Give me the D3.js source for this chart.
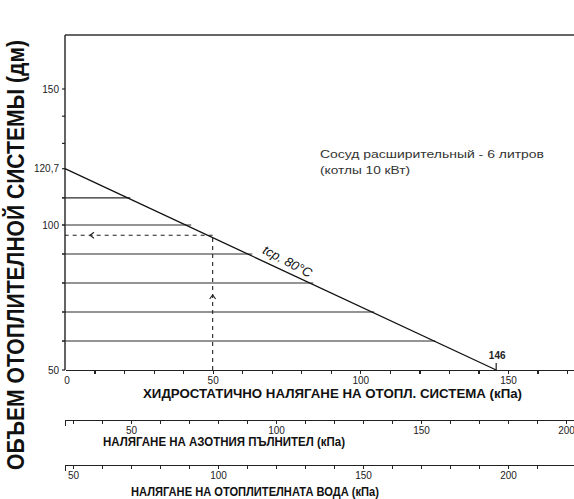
<!DOCTYPE html>
<html>
<head>
<meta charset="utf-8">
<script src="https://d3js.org/d3.v7.min.js"></script>
<style>
    html, body { margin: 0; padding: 0; background: #fff; }
    svg { display: block; font-family: "Liberation Sans", Arial, sans-serif; }
    .axis path, .axis line { stroke: #222; stroke-width: 1.2px; shape-rendering: crispEdges; }
    .axis text { font-size: 10px; fill: #222; font-family: "Liberation Sans", Arial, sans-serif; }
    .title { font-weight: bold; fill: #111; }
</style>
</head>
<body>
<svg id="chart" width="574" height="499"></svg>
<script>
// values
const volumeLevels = [60, 70, 80, 90, 100, 110];        // horizontal guide lines (dm3)
const linePressure = [0, 146];                           // hydrostatic pressure (kPa)
const lineVolume = [120.7, 50];                          // system volume (dm3)
const examplePressure = 50;                              // dashed reading example
const volumeLabels = [50, 100, 120.7, 150];
const volumeMinor = [60, 70, 80, 90, 110, 130, 140];
const hydroLabels = [0, 50, 100, 150];
const nitrogenLabels = [50, 100, 150, 200];
const waterLabels = [50, 100, 150, 200];
const hydroTicks = [10, 20, 30, 40, 50, 60, 70, 80, 90, 100, 110, 120, 130, 140, 150, 160, 170];
const nitrogenTicks = [30, 40, 50, 60, 70, 80, 90, 100, 110, 120, 130, 140, 150, 160, 170, 180, 190, 200];
const waterTicks = [50, 60, 70, 80, 90, 100, 110, 120, 130, 140, 150, 160, 170, 180, 190, 200, 210];

const plotLeft = 65, plotRight = 574, plotTop = 35;

const svg = d3.select("#chart");

// scales (the scan is a bit stretched, so y is piecewise)
const x = d3.scaleLinear().domain([0, 150]).range([plotLeft, 508]);
const xN = d3.scaleLinear().domain([50, 200]).range([131, 566]);
const xW = d3.scaleLinear().domain([100, 200]).range([218, 508]);
const y = d3.scaleLinear().domain([50, 100, 150]).range([370, 225, 89]);

// volume where the temperature line crosses a given pressure
const slope = (lineVolume[1] - lineVolume[0]) / (linePressure[1] - linePressure[0]);
const volAt = p => lineVolume[0] + slope * (p - linePressure[0]);
const pressAt = v => linePressure[0] + (v - lineVolume[0]) / slope;

// frame: top border and y axis line
svg.append("line").attr("x1", plotLeft).attr("x2", plotRight).attr("y1", plotTop).attr("y2", plotTop)
    .attr("stroke", "#333").attr("stroke-width", 1.3);
svg.append("line").attr("x1", plotLeft).attr("x2", plotLeft).attr("y1", plotTop).attr("y2", y(50))
    .attr("stroke", "#222").attr("stroke-width", 1.4);

// y ticks + labels
svg.selectAll(".ytick").data(volumeLabels.concat(volumeMinor)).join("line")
    .attr("x1", plotLeft - 3).attr("x2", plotLeft)
    .attr("y1", d => y(d)).attr("y2", d => y(d))
    .attr("stroke", "#222").attr("stroke-width", 1.2);
svg.selectAll(".ylab").data(volumeLabels).join("text")
    .attr("x", plotLeft - 6).attr("y", d => y(d)).attr("dy", "0.35em")
    .attr("text-anchor", "end")
    .style("font-size", "10px").style("fill", "#222")
    .text(d => String(d).replace(".", ","));

// horizontal guides from the axis up to the line
svg.selectAll(".guide").data(volumeLevels).join("line")
    .attr("x1", plotLeft - 3).attr("x2", d => x(pressAt(d)))
    .attr("y1", d => y(d)).attr("y2", d => y(d))
    .attr("stroke", "#2a2a2a").attr("stroke-width", 1.2);

// temperature line
svg.append("path")
    .datum(linePressure.map((p, i) => [p, lineVolume[i]]))
    .attr("fill", "none").attr("stroke", "#111").attr("stroke-width", 1.3)
    .attr("d", d3.line().x(d => x(d[0])).y(d => y(d[1])));

// tick + label at 146
svg.append("line").attr("x1", x(linePressure[1])).attr("x2", x(linePressure[1]))
    .attr("y1", y(50)).attr("y2", y(50) - 7).attr("stroke", "#222").attr("stroke-width", 1.2);
svg.append("text").attr("x", x(linePressure[1]) + 1).attr("y", y(50) - 11)
    .attr("text-anchor", "middle").style("font-size", "10px").style("font-weight", "bold").style("fill", "#222")
    .text(linePressure[1]);

// dashed reading example
const exV = volAt(examplePressure);
svg.append("line").attr("x1", x(examplePressure)).attr("x2", x(examplePressure))
    .attr("y1", y(50)).attr("y2", y(exV))
    .attr("stroke", "#222").attr("stroke-width", 1.1).attr("stroke-dasharray", "4,4");
svg.append("line").attr("x1", x(examplePressure)).attr("x2", plotLeft)
    .attr("y1", y(exV)).attr("y2", y(exV))
    .attr("stroke", "#222").attr("stroke-width", 1.1).attr("stroke-dasharray", "4,4");
// little arrow heads
const ax = x(examplePressure), ay = 295;
svg.append("path").attr("d", `M${ax - 3},${ay + 4} L${ax},${ay} L${ax + 3},${ay + 4}`)
    .attr("fill", "none").attr("stroke", "#222").attr("stroke-width", 1.1);
const hx = 90, hy = y(exV);
svg.append("path").attr("d", `M${hx + 4},${hy - 3} L${hx},${hy} L${hx + 4},${hy + 3}`)
    .attr("fill", "none").attr("stroke", "#222").attr("stroke-width", 1.1);

// label along the line
const ang = Math.atan2(y(lineVolume[1]) - y(lineVolume[0]), x(linePressure[1]) - x(linePressure[0])) * 180 / Math.PI;
const lp = 74;
svg.append("text")
    .attr("transform", `translate(${x(lp)},${y(volAt(lp))}) rotate(${ang + 3})`)
    .attr("y", -4).attr("text-anchor", "middle")
    .style("font-size", "13px").style("font-style", "italic").style("fill", "#111")
    .text("tср. 80°C");

// note text
svg.append("text").attr("x", 320).attr("y", 158)
    .style("font-size", "11.5px").style("fill", "#333")
    .attr("textLength", 224).attr("lengthAdjust", "spacingAndGlyphs")
    .text("Сосуд расширительный - 6 литров");
svg.append("text").attr("x", 320).attr("y", 174)
    .style("font-size", "11.5px").style("fill", "#333")
    .attr("textLength", 90).attr("lengthAdjust", "spacingAndGlyphs")
    .text("(котлы 10 кВт)");

// bottom axes, each running across the full width
function drawAxis(scale, ticks, labels, yPos, outer) {
    const s = scale.copy()
        .domain([scale.invert(plotLeft), scale.invert(plotRight)])
        .range([plotLeft, plotRight]);
    const g = svg.append("g").attr("class", "axis").attr("transform", `translate(0,${yPos})`);
    g.call(d3.axisBottom(s)
        .tickValues(ticks)
        .tickSize(4)
        .tickSizeOuter(outer)
        .tickPadding(3)
        .tickFormat(d => labels.includes(d) ? d : ""));
    g.selectAll("text").attr("font-family", null).attr("font-size", null);
    return g;
}
drawAxis(x, hydroTicks, hydroLabels, y(50), 0);
// "0" label at origin
svg.append("text").attr("x", plotLeft + 2).attr("y", y(50) + 14)
    .attr("text-anchor", "middle").style("font-size", "10px").style("fill", "#222").text(hydroLabels[0]);
drawAxis(xN, nitrogenTicks, nitrogenLabels, 420, 6);
drawAxis(xW, waterTicks, waterLabels, 465, 6);

// axis titles
svg.append("text").attr("class", "title").attr("x", 143).attr("y", 398)
    .style("font-size", "12.5px").attr("textLength", 379).attr("lengthAdjust", "spacingAndGlyphs")
    .text("ХИДРОСТАТИЧНО НАЛЯГАНЕ  НА ОТОПЛ. СИСТЕМА (кПа)");
svg.append("text").attr("class", "title").attr("x", 103).attr("y", 446)
    .style("font-size", "12.5px").attr("textLength", 242).attr("lengthAdjust", "spacingAndGlyphs")
    .text("НАЛЯГАНЕ НА АЗОТНИЯ ПЪЛНИТЕЛ (кПа)");
svg.append("text").attr("class", "title").attr("x", 131).attr("y", 496)
    .style("font-size", "12.5px").attr("textLength", 248).attr("lengthAdjust", "spacingAndGlyphs")
    .text("НАЛЯГАНЕ НА  ОТОПЛИТЕЛНАТА ВОДА (кПа)");
svg.append("text").attr("class", "title")
    .attr("transform", "translate(24,255) rotate(-90)")
    .attr("text-anchor", "middle")
    .style("font-size", "23px").attr("textLength", 430).attr("lengthAdjust", "spacingAndGlyphs")
    .text("ОБЪЕМ ОТОПЛИТЕЛНОЙ СИСТЕМЫ (дм)");
</script>
</body>
</html>
